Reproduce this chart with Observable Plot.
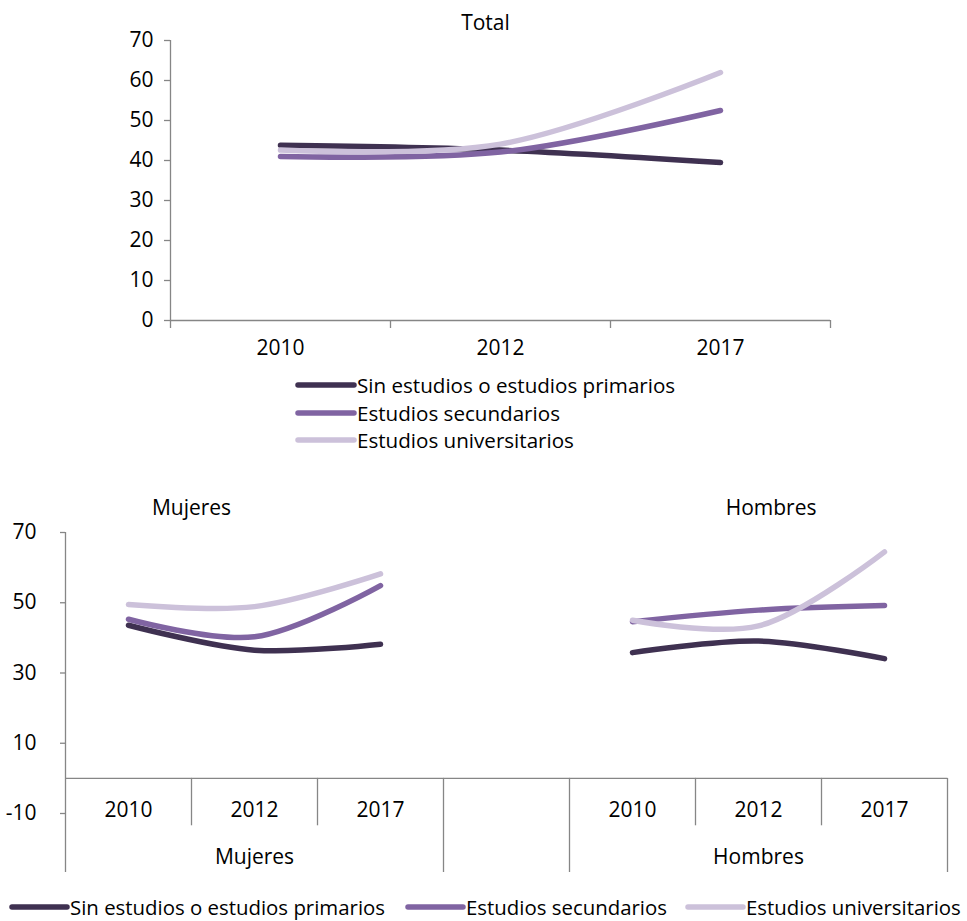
<!DOCTYPE html>
<html>
<head>
<meta charset="utf-8">
<script src="https://cdn.jsdelivr.net/npm/d3@7"></script>
<script src="https://cdn.jsdelivr.net/npm/@observablehq/plot@0.6"></script>
<style>
  html, body { margin: 0; padding: 0; background: #fff; }
  #root { position: relative; width: 967px; height: 921px; overflow: hidden; font-family: "Open Sans", sans-serif; color: #000; }
  .abs { position: absolute; }
  .leg { position: absolute; display: flex; align-items: center; white-space: nowrap; }
</style>
</head>
<body>
<div id="root"></div>
<script>
// ---- data ----
const years = ["2010", "2012", "2017"];
const series = ["Sin estudios o estudios primarios", "Estudios secundarios", "Estudios universitarios"];
const colors = ["#3f3151", "#8064a2", "#ccc1da"];
const groups = ["Mujeres", "Hombres"];

const totalSin = [43.8, 42.6, 39.5];
const totalSec = [41.0, 42.1, 52.5];
const totalUni = [42.6, 44.1, 62.0];

const mujeresSin = [43.6, 36.5, 38.2];
const mujeresSec = [45.3, 40.3, 54.9];
const mujeresUni = [49.5, 48.9, 58.2];

const hombresSin = [35.8, 39.1, 34.1];
const hombresSec = [44.6, 47.9, 49.2];
const hombresUni = [45.0, 43.4, 64.5];

// ---- build tables ----
const totalSeries = [totalSin, totalSec, totalUni];
const totalData = [];
totalSeries.forEach((vals, s) => vals.forEach((v, i) => totalData.push({series: series[s], i, year: years[i], value: v})));

const groupSeries = {Mujeres: [mujeresSin, mujeresSec, mujeresUni], Hombres: [hombresSin, hombresSec, hombresUni]};
const groupOffset = {Mujeres: 0, Hombres: 4};
const sexData = [];
groups.forEach(g => groupSeries[g].forEach((vals, s) => vals.forEach((v, i) =>
  sexData.push({series: series[s], group: g, key: series[s] + "|" + g, i: groupOffset[g] + i, year: years[i], value: v}))));

const root = document.getElementById("root");
const axisColor = "#868686";
const FONT = "Open Sans, sans-serif";
const FS = 21;

// ---- top chart ----
const topChart = Plot.plot({
  width: 967, height: 372,
  marginLeft: 170, marginRight: 137, marginTop: 40, marginBottom: 52,
  style: {fontFamily: FONT, fontSize: FS + "px", color: "#000", background: "transparent"},
  x: {domain: [-0.5, 2.5], axis: null},
  y: {domain: [0, 70], axis: null},
  color: {domain: series, range: colors},
  marks: [
    Plot.ruleY([0], {x1: -0.5, x2: 2.5, stroke: axisColor, strokeWidth: 1.3}),
    Plot.ruleX([-0.5], {y1: 0, y2: 70, stroke: axisColor, strokeWidth: 1.3}),
    Plot.axisY({ticks: d3.range(0, 71, 10), tickSize: 6, tickPadding: 11, tickFormat: d => String(d), stroke: axisColor, strokeWidth: 1.3, label: null, fill: "#000"}),
    Plot.axisX({ticks: [-0.5, 0.5, 1.5, 2.5], tickSize: 8, tickFormat: () => "", stroke: axisColor, strokeWidth: 1.3, label: null}),
    Plot.axisX({ticks: [0, 1, 2], tickSize: 0, tickPadding: 20, tickFormat: i => years[i], label: null, fill: "#000"}),
    Plot.line(totalData, {x: "i", y: "value", z: "series", stroke: "series", strokeWidth: 5.5, strokeLinecap: "round", curve: "catmull-rom"}),
    Plot.text(["Total"], {frameAnchor: "top", lineAnchor: "middle", dy: -17, dx: -15, fontSize: FS, fill: "#000"})
  ]
});
topChart.classList.add("abs");
topChart.style.left = "0px"; topChart.style.top = "0px";
root.appendChild(topChart);

// top legend (vertical)
series.forEach((s, k) => {
  const d = document.createElement("div");
  d.className = "leg";
  d.style.left = "294px";
  d.style.top = (385 + k * 27.5 - 14) + "px";
  d.style.height = "28px";
  d.style.fontSize = "20.6px";
  d.innerHTML = `<svg width="63" height="10" style="flex:none"><line x1="4" y1="5" x2="60" y2="5" stroke="${colors[k]}" stroke-width="5.5" stroke-linecap="round"/></svg><span>${s}</span>`;
  root.appendChild(d);
});

// ---- bottom chart ----
const bottomChart = Plot.plot({
  width: 967, height: 400,
  marginLeft: 65, marginRight: 20, marginTop: 42, marginBottom: 77,
  style: {fontFamily: FONT, fontSize: FS + "px", color: "#000", background: "transparent"},
  x: {domain: [-0.5, 6.5], axis: null},
  y: {domain: [-10, 70], axis: null},
  color: {domain: series, range: colors},
  marks: [
    Plot.ruleY([0], {x1: -0.5, x2: 6.5, stroke: axisColor, strokeWidth: 1.3}),
    Plot.ruleX([-0.5], {y1: -26.8, y2: 70, stroke: axisColor, strokeWidth: 1.3}),
    Plot.ruleX([0.5, 1.5, 4.5, 5.5], {y1: 0, y2: -13.5, stroke: axisColor, strokeWidth: 1.3}),
    Plot.ruleX([2.5, 3.5, 6.5], {y1: 0, y2: -26.8, stroke: axisColor, strokeWidth: 1.3}),
    Plot.axisY({ticks: [-10, 10, 30, 50, 70], tickSize: 5, tickPadding: 24, tickFormat: d => String(d), stroke: axisColor, strokeWidth: 1.3, label: null, fill: "#000"}),
    Plot.text(sexData.filter(d => d.series === series[0]), {x: "i", y: 0, text: "year", dy: 32, fontSize: FS, fill: "#000"}),
    Plot.text(groups, {x: g => groupOffset[g] + 1, y: 0, text: d => d, dy: 79, fontSize: FS, fill: "#000"}),
    Plot.line(sexData, {x: "i", y: "value", z: "key", stroke: "series", strokeWidth: 5.5, strokeLinecap: "round", curve: "catmull-rom"}),
    Plot.text(groups, {x: g => g === "Mujeres" ? 0.5 : 5.1, y: 70, text: d => d, dy: -24, fontSize: FS, fill: "#000"})
  ]
});
bottomChart.classList.add("abs");
bottomChart.style.left = "0px"; bottomChart.style.top = "490px";
root.appendChild(bottomChart);

// bottom legend (horizontal)
const legLeft = [8, 404, 684];
series.forEach((s, k) => {
  const d = document.createElement("div");
  d.className = "leg";
  d.style.left = legLeft[k] + "px";
  d.style.top = "893px";
  d.style.height = "28px";
  d.style.fontSize = "20.4px";
  d.innerHTML = `<svg width="62" height="10" style="flex:none"><line x1="4" y1="5" x2="59" y2="5" stroke="${colors[k]}" stroke-width="5.5" stroke-linecap="round"/></svg><span>${s}</span>`;
  root.appendChild(d);
});
</script>
</body>
</html>
